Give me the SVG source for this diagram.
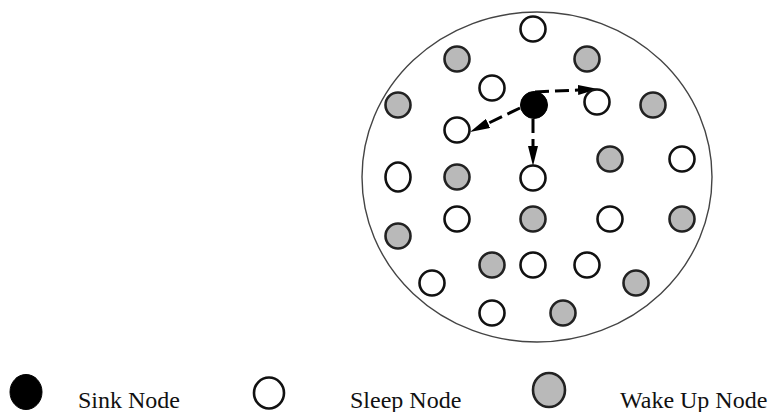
<svg xmlns="http://www.w3.org/2000/svg" width="778" height="412" viewBox="0 0 778 412">
<style>
.sleep{fill:#fff;stroke:#111;stroke-width:2.6}
.wake{fill:#b9b9b9;stroke:#222;stroke-width:2.6}
.sink{fill:#000;stroke:#000;stroke-width:1}
.conn{stroke:#000;stroke-width:3;fill:none;stroke-dasharray:14,6}
.lbl{font-family:"Liberation Serif","Times New Roman",serif;font-size:24px;fill:#111}
</style>
<defs>
<marker id="ah" viewBox="0 0 20 10" refX="0" refY="5" markerWidth="20" markerHeight="10" markerUnits="userSpaceOnUse" orient="auto">
<path d="M0,0 L20,5 L0,10 z" fill="#000"/>
</marker>
</defs>
<rect width="778" height="412" fill="#fff"/>
<ellipse id="field" cx="537" cy="177" rx="175" ry="165" fill="none" stroke="#444" stroke-width="1.4"/>
<g id="connectors">
<path class="conn" d="M535,92 L578,90" marker-end="url(#ah)"/>
<path class="conn" d="M520,108 L488,123.4" marker-end="url(#ah)"/>
<path class="conn" d="M533,119 L533,146" marker-end="url(#ah)"/>
</g>
<g id="n1"><circle class="sleep" cx="533" cy="29" r="12.5"/></g>
<g id="n2"><circle class="wake" cx="457" cy="59" r="12.5"/></g>
<g id="n3"><circle class="wake" cx="587" cy="59" r="12.5"/></g>
<g id="n4"><circle class="sleep" cx="492" cy="88" r="12.5"/></g>
<g id="sink"><circle class="sink" cx="534" cy="105" r="13.5"/></g>
<g id="n5"><circle class="sleep" cx="597" cy="102" r="12.5"/></g>
<g id="n6"><circle class="wake" cx="398" cy="105" r="12.5"/></g>
<g id="n7"><circle class="wake" cx="653" cy="105" r="12.5"/></g>
<g id="n8"><circle class="sleep" cx="457" cy="130" r="12.5"/></g>
<g id="n9"><circle class="wake" cx="610" cy="159" r="12.5"/></g>
<g id="n10"><circle class="sleep" cx="682" cy="159" r="12.5"/></g>
<g id="n11"><ellipse class="sleep" cx="398" cy="177" rx="12.5" ry="14.5"/></g>
<g id="n12"><circle class="wake" cx="457" cy="177" r="12.5"/></g>
<g id="n13"><circle class="sleep" cx="533" cy="178" r="12.5"/></g>
<g id="n14"><circle class="sleep" cx="457" cy="219" r="12.5"/></g>
<g id="n15"><circle class="wake" cx="533" cy="219" r="12.5"/></g>
<g id="n16"><circle class="sleep" cx="610" cy="219" r="12.5"/></g>
<g id="n17"><circle class="wake" cx="682" cy="219" r="12.5"/></g>
<g id="n18"><circle class="wake" cx="398" cy="236" r="12.5"/></g>
<g id="n19"><circle class="wake" cx="492" cy="265" r="12.5"/></g>
<g id="n20"><circle class="sleep" cx="533" cy="265" r="12.5"/></g>
<g id="n21"><circle class="sleep" cx="587" cy="265" r="12.5"/></g>
<g id="n22"><circle class="sleep" cx="432" cy="283" r="12.5"/></g>
<g id="n23"><circle class="wake" cx="636" cy="283" r="12.5"/></g>
<g id="n24"><circle class="sleep" cx="492" cy="313" r="12.5"/></g>
<g id="n25"><circle class="wake" cx="563" cy="313" r="12.5"/></g>
<g id="legend-sink"><ellipse class="sink" cx="26" cy="392" rx="16" ry="17.5"/><text class="lbl" x="78" y="408">Sink Node</text></g>
<g id="legend-sleep"><ellipse class="sleep" cx="269" cy="393" rx="15" ry="15.5"/><text class="lbl" x="350" y="408">Sleep Node</text></g>
<g id="legend-wake"><ellipse class="wake" cx="549" cy="390" rx="16" ry="17"/><text class="lbl" x="620" y="408">Wake Up Node</text></g>
</svg>
